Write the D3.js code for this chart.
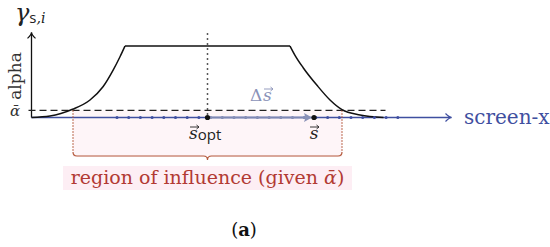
<!DOCTYPE html>
<html>
<head>
<meta charset="utf-8">
<script src="https://cdn.jsdelivr.net/npm/d3@7"></script>
<style>
  body { margin: 0; background: #fff; }
  svg { display: block; }
  .serif { font-family: "DejaVu Serif", "Liberation Serif", serif; }
  .sans { font-family: "Open Sans", "Noto Sans", sans-serif; }
</style>
</head>
<body>
<div id="chart"></div>
<script>
// gamma(s): x in screen units (s_opt = 0), y in alpha (plateau = 1)
var leftX = [-17.6, -15.75, -13.5, -11.75, -10.45, -9.45, -8.75, -8.25];
var leftY = [0, 0.02, 0.115, 0.245, 0.43, 0.66, 0.85, 1];
var rightX = [8.25, 8.75, 9.55, 10.95, 12.25, 13.45, 15.25, 17.6];
var rightY = [1, 0.87, 0.70, 0.45, 0.245, 0.11, 0.035, 0];
// sample positions along screen-x
var samples = [-9.05, -7.88, -6.71, -5.54, -4.37, -3.20, -2.03, -0.86, 0.31, 1.48,
               2.65, 3.82, 4.99, 6.16, 7.33, 8.50, 9.67, 10.84, 12.01, 13.18,
               14.35, 15.52, 16.69, 17.86, 19.03];
var sOpt = 0, sCur = 10.65;
var alphaBar = 0.1;
var regionEdges = [-13.45, 13.45];

var width = 550, height = 247;

var svg = d3.select("#chart").append("svg")
    .attr("width", width)
    .attr("height", height);

var x = d3.scaleLinear().domain([-17.6, 24.5]).range([31.5, 452.5]);
var y = d3.scaleLinear().domain([0, 1]).range([117.5, 46]);

var red = "#b23a33", brace = "#b45a3c", blue = "#3f4fa0", grey = "#8a92b8";

// little vector arrow drawn over a glyph
function vec(parent, x0, x1, yy, col) {
    parent.append("path")
        .attr("d", "M" + x0 + "," + yy + "L" + x1 + "," + yy
            + "M" + (x1 - 2.5) + "," + (yy - 2) + "L" + x1 + "," + yy + "L" + (x1 - 2.5) + "," + (yy + 2))
        .style("fill", "none").style("stroke", col).style("stroke-width", 0.9);
}

// pink region of influence
svg.append("rect")
    .attr("x", x(regionEdges[0])).attr("y", y(alphaBar))
    .attr("width", x(regionEdges[1]) - x(regionEdges[0]))
    .attr("height", 157 - y(alphaBar))
    .style("fill", "#fef5f8");

// text highlight
svg.append("rect")
    .attr("x", 63).attr("y", 166).attr("width", 289).attr("height", 24)
    .style("fill", "#fdeef4");

// y axis
var ax = x(-17.6), yTop = y(1.19);
svg.append("line")
    .attr("x1", ax).attr("x2", ax)
    .attr("y1", y(0)).attr("y2", yTop)
    .style("stroke", "#111").style("stroke-width", 1.3);
svg.append("path")
    .attr("d", "M" + (ax - 4) + "," + (yTop + 6) + " Q" + ax + "," + (yTop + 2) + " " + ax + "," + yTop
        + " Q" + ax + "," + (yTop + 2) + " " + (ax + 4) + "," + (yTop + 6))
    .style("fill", "none").style("stroke", "#111").style("stroke-width", 1.2);

// screen-x axis
var xe = x(24.4);
svg.append("line")
    .attr("x1", ax).attr("x2", xe)
    .attr("y1", y(0)).attr("y2", y(0))
    .style("stroke", blue).style("stroke-width", 1.3);
svg.append("path")
    .attr("d", "M" + (xe - 6) + "," + (y(0) - 4) + " Q" + (xe - 2) + "," + y(0) + " " + xe + "," + y(0)
        + " Q" + (xe - 2) + "," + y(0) + " " + (xe - 6) + "," + (y(0) + 4))
    .style("fill", "none").style("stroke", blue).style("stroke-width", 1.2);

// dashed alpha-bar threshold
svg.append("line")
    .attr("x1", ax - 3).attr("x2", x(17.8))
    .attr("y1", y(alphaBar)).attr("y2", y(alphaBar))
    .style("stroke", "#222").style("stroke-width", 1.2)
    .style("stroke-dasharray", "7,4");

// vertical dotted at s_opt
svg.append("line")
    .attr("x1", x(sOpt)).attr("x2", x(sOpt))
    .attr("y1", y(1.18)).attr("y2", y(0))
    .style("stroke", "#222").style("stroke-width", 1.5)
    .style("stroke-dasharray", "1.5,3.5");

// red dotted region edges
svg.selectAll(".edge").data(regionEdges).enter().append("line")
    .attr("class", "edge")
    .attr("x1", function(d) { return x(d); }).attr("x2", function(d) { return x(d); })
    .attr("y1", y(alphaBar)).attr("y2", 152)
    .style("stroke", brace).style("stroke-width", 1.2)
    .style("stroke-dasharray", "1.5,1.5");

// brace
var bl = x(regionEdges[0]), br = x(regionEdges[1]), bm = x(sOpt);
svg.append("path")
    .attr("d", "M" + bl + ",152 Q" + bl + ",156 " + (bl + 4) + ",156 L" + (bm - 4) + ",156 Q" + bm + ",156 " + bm + ",160"
        + " Q" + bm + ",156 " + (bm + 4) + ",156 L" + (br - 4) + ",156 Q" + br + ",156 " + br + ",152")
    .style("fill", "none").style("stroke", brace).style("stroke-width", 1.2);

// gamma curve
var line = d3.line().curve(d3.curveMonotoneX)
    .x(function(d) { return x(d[0]); })
    .y(function(d) { return y(d[1]); });
var pts = leftX.map(function(v, i) { return [v, leftY[i]]; })
    .concat(rightX.map(function(v, i) { return [v, rightY[i]]; }));
svg.append("path")
    .attr("d", line(pts.slice(0, 8)))
    .style("fill", "none").style("stroke", "#111").style("stroke-width", 1.5);
svg.append("path")
    .attr("d", d3.line().x(function(d) { return x(d[0]); }).y(function(d) { return y(d[1]); })([pts[7], pts[8]]))
    .style("fill", "none").style("stroke", "#111").style("stroke-width", 1.5);
svg.append("path")
    .attr("d", line(pts.slice(8)))
    .style("fill", "none").style("stroke", "#111").style("stroke-width", 1.5);

// samples
svg.selectAll(".sample").data(samples).enter().append("circle")
    .attr("class", "sample")
    .attr("cx", function(d) { return x(d); })
    .attr("cy", y(0))
    .attr("r", 1.5)
    .style("fill", function(d) { return (d > sOpt && d < sCur) ? "#7a82b0" : blue; });

// delta arrow
svg.append("line")
    .attr("x1", x(sOpt)).attr("x2", x(sCur) - 6)
    .attr("y1", y(0)).attr("y2", y(0))
    .style("stroke", grey).style("stroke-width", 2).style("opacity", 0.85);
svg.append("path")
    .attr("d", "M" + (x(sCur) - 2) + "," + y(0) + " L" + (x(sCur) - 10) + "," + (y(0) - 4.5)
        + " Q" + (x(sCur) - 8) + "," + y(0) + " " + (x(sCur) - 10) + "," + (y(0) + 4.5) + " Z")
    .style("fill", grey);

svg.selectAll(".pt").data([sOpt, sCur]).enter().append("circle")
    .attr("class", "pt")
    .attr("cx", function(d) { return x(d); })
    .attr("cy", y(0))
    .attr("r", 2.6)
    .style("fill", "#111");

// texts
var g = svg.append("text").attr("class", "serif").attr("x", 15).attr("y", 21).style("fill", "#222");
g.append("tspan").style("font-style", "italic").style("font-size", "24px").text("γ");
g.append("tspan").attr("class", "sans").attr("dy", 2).style("font-size", "15px").text("s");
g.append("tspan").style("font-style", "italic").style("font-size", "14px").text(",i");

svg.append("text").attr("class", "serif")
    .attr("transform", "translate(21,76) rotate(-90)")
    .attr("text-anchor", "middle")
    .style("font-size", "17px").style("fill", "#333")
    .text("alpha");

svg.append("text").attr("class", "serif")
    .attr("x", 15).attr("y", 116).attr("text-anchor", "middle")
    .style("font-size", "15px").style("font-style", "italic").style("fill", "#333")
    .text("ᾱ");

// delta s
svg.append("text").attr("class", "serif")
    .attr("x", 250).attr("y", 101)
    .style("font-size", "17px").style("fill", grey)
    .text("Δ");
svg.append("text").attr("class", "serif")
    .attr("x", 263).attr("y", 101)
    .style("font-size", "17px").style("font-style", "italic").style("fill", grey)
    .text("s");
vec(svg, 264, 273, 89, grey);

// s_opt
var so = svg.append("text").attr("class", "serif")
    .attr("x", 189).attr("y", 139)
    .style("font-size", "17px").style("fill", "#222");
so.append("tspan").style("font-style", "italic").text("s");
so.append("tspan").attr("class", "sans").attr("dy", 1).style("font-size", "15px").text("opt");
vec(svg, 190, 199, 127, "#222");

// s
svg.append("text").attr("class", "serif")
    .attr("x", x(sCur)).attr("y", 139).attr("text-anchor", "middle")
    .style("font-size", "17px").style("font-style", "italic").style("fill", "#222")
    .text("s");
vec(svg, x(sCur) - 4, x(sCur) + 5, 127, "#222");

svg.append("text").attr("class", "serif")
    .attr("x", 464).attr("y", 124)
    .style("font-size", "20px").style("fill", blue)
    .text("screen-x");

var rg = svg.append("text").attr("class", "serif")
    .attr("x", 207.5).attr("y", 184).attr("text-anchor", "middle")
    .style("font-size", "19px").style("fill", red);
rg.append("tspan").text("region of influence (given ");
rg.append("tspan").style("font-style", "italic").text("ᾱ");
rg.append("tspan").text(")");

var a = svg.append("text").attr("class", "serif")
    .attr("x", 244).attr("y", 236).attr("text-anchor", "middle")
    .style("font-size", "18px").style("fill", "#111");
a.append("tspan").text("(");
a.append("tspan").style("font-weight", "bold").text("a");
a.append("tspan").text(")");
</script>
</body>
</html>
